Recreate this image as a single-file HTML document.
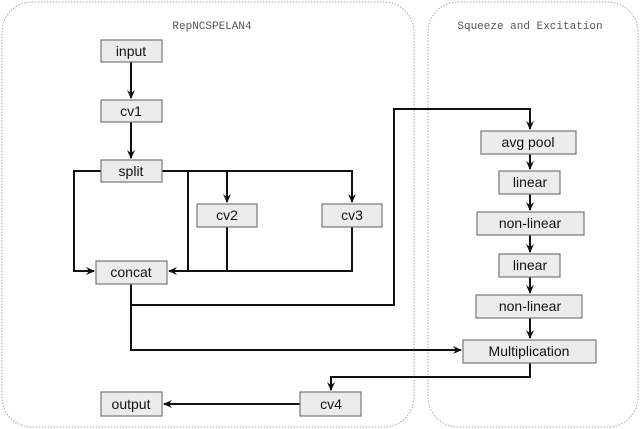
<!DOCTYPE html>
<html><head><meta charset="utf-8"><style>
html,body{margin:0;padding:0;background:#fff;}
svg{display:block;}
.b{fill:#ececec;stroke:#777;stroke-width:1.2;}
.t{font-family:"Liberation Sans",sans-serif;font-size:14px;fill:#111;text-anchor:middle;}
.h{font-family:"Liberation Mono",monospace;font-size:11px;fill:#555;text-anchor:middle;}
.l{stroke:#111;stroke-width:2;fill:none;}
</style></head><body>
<svg width="640" height="429" viewBox="0 0 640 429">
<defs><marker id="a" markerWidth="10" markerHeight="10" refX="8" refY="5" orient="auto" markerUnits="userSpaceOnUse"><path d="M0,1 L9,5 L0,9 L3,5z" fill="#111"/></marker></defs>
<rect x="2" y="2" width="412" height="425" rx="30" fill="none" stroke="#aaa" stroke-dasharray="1.5,1.5"/>
<rect x="428" y="2" width="210" height="425" rx="30" fill="none" stroke="#aaa" stroke-dasharray="1.5,1.5"/>
<text class="h" x="212" y="29">RepNCSPELAN4</text>
<text class="h" x="530" y="29">Squeeze and Excitation</text>
<!-- connectors -->
<path class="l" d="M131,62 V98" marker-end="url(#a)"/>
<path class="l" d="M131,122 V158" marker-end="url(#a)"/>
<path class="l" d="M162,171 H352 V202" marker-end="url(#a)"/>
<path class="l" d="M227,171 V202" marker-end="url(#a)"/>
<path class="l" d="M188,171 V271"/>
<path class="l" d="M227,227 V271"/>
<path class="l" d="M352,227 V271 H169" marker-end="url(#a)"/>
<path class="l" d="M101,171 H74 V271 H94" marker-end="url(#a)"/>
<path class="l" d="M131,284 V305 H394 V109 H530 V129" marker-end="url(#a)"/>
<path class="l" d="M131,305 V350 H461" marker-end="url(#a)"/>
<path class="l" d="M530,154 V169" marker-end="url(#a)"/>
<path class="l" d="M530,194 V210" marker-end="url(#a)"/>
<path class="l" d="M530,235 V252" marker-end="url(#a)"/>
<path class="l" d="M530,277 V293" marker-end="url(#a)"/>
<path class="l" d="M530,318 V338" marker-end="url(#a)"/>
<path class="l" d="M530,363 V377 H331 V390" marker-end="url(#a)"/>
<path class="l" d="M300,404 H164" marker-end="url(#a)"/>
<!-- boxes -->
<rect class="b" x="101" y="40" width="61" height="22"/><text class="t" x="131" y="56">input</text>
<rect class="b" x="101" y="100" width="61" height="22"/><text class="t" x="131" y="116">cv1</text>
<rect class="b" x="101" y="160" width="61" height="22"/><text class="t" x="131" y="176">split</text>
<rect class="b" x="197" y="204" width="60" height="23"/><text class="t" x="227" y="220">cv2</text>
<rect class="b" x="322" y="204" width="60" height="23"/><text class="t" x="352" y="220">cv3</text>
<rect class="b" x="96" y="261" width="71" height="23"/><text class="t" x="131" y="277">concat</text>
<rect class="b" x="101" y="392" width="61" height="24"/><text class="t" x="131" y="409">output</text>
<rect class="b" x="300" y="392" width="61" height="24"/><text class="t" x="331" y="409">cv4</text>
<rect class="b" x="481" y="131" width="95" height="23"/><text class="t" x="528" y="147">avg pool</text>
<rect class="b" x="499" y="171" width="61" height="23"/><text class="t" x="530" y="187">linear</text>
<rect class="b" x="477" y="212" width="107" height="23"/><text class="t" x="530" y="228">non-linear</text>
<rect class="b" x="499" y="254" width="61" height="23"/><text class="t" x="530" y="270">linear</text>
<rect class="b" x="476" y="295" width="106" height="23"/><text class="t" x="530" y="311">non-linear</text>
<rect class="b" x="463" y="340" width="133" height="23"/><text class="t" x="529" y="356">Multiplication</text>
</svg>
</body></html>
